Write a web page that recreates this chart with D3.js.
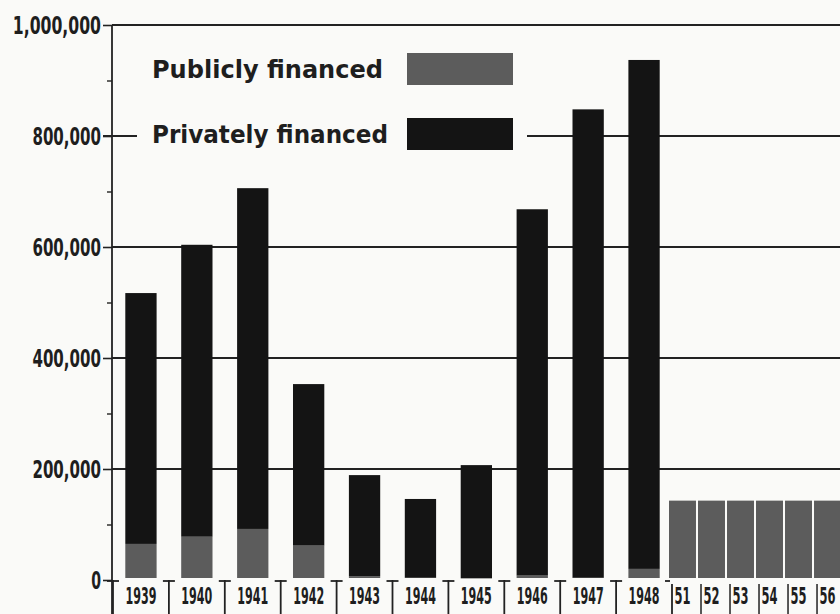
<!DOCTYPE html>
<html>
<head>
<meta charset="utf-8">
<script src="https://cdn.jsdelivr.net/npm/d3@7"></script>
<style>
    body { margin: 0; background: #fafaf8; }
    svg text {
        font-family: "Liberation Sans Narrow", "DejaVu Sans Condensed", "Liberation Sans", sans-serif;
        font-weight: bold;
        fill: #1e1e1e;
    }
</style>
</head>
<body>
<svg id="chart" width="840" height="614"></svg>
<script>
// dwelling units started
const years = ["1939", "1940", "1941", "1942", "1943", "1944", "1945", "1946", "1947", "1948"];
const publicStarts = [65000, 78000, 92000, 62000, 7000, 4000, 3000, 8000, 4000, 20000];
const privateStarts = [452000, 526000, 614000, 291000, 182000, 142000, 204000, 660000, 844000, 917000];

// projected public program, 1951-56
const projectedYears = ["51", "52", "53", "54", "55", "56"];
const projectedPublic = [143000, 143000, 143000, 143000, 143000, 143000];

const yTicks = [0, 200000, 400000, 600000, 800000, 1000000];
const yTickLabels = ["0", "200,000", "400,000", "600,000", "800,000", "1,000,000"];
const legendLabels = ["Publicly financed", "Privately financed"];

const colors = { public: "#5c5c5c", private: "#141414", ink: "#222" };

const svg = d3.select("#chart");
const width = +svg.attr("width"),
    height = +svg.attr("height");

const axisX = 112;

const y = d3.scaleLinear()
    .domain([0, 1000000])
    .range([580, 25]);

const x = d3.scaleBand()
    .domain(years)
    .range([113, 672])
    .paddingInner(0.44)
    .paddingOuter(0.22);

const xp = d3.scaleBand()
    .domain(projectedYears)
    .range([669, 841])
    .paddingInner(0.07)
    .paddingOuter(0);

// legend geometry (needed to break the 800,000 gridline)
const legend = { x: 152, boxX: 407, boxW: 106, boxH: 32, rows: [69, 134] };

// squeeze a centred label horizontally to a given width
function squeeze(sel, w) {
    sel.each(function() {
        const len = this.getComputedTextLength();
        if (len > 0) d3.select(this).attr("transform", "scale(" + (w / len) + ",1)");
    });
}

// gridlines
const grid = svg.append("g").attr("class", "grid");
yTicks.filter(d => d > 0).forEach(d => {
    let segs = [[axisX, width]];
    if (d === 800000) segs = [[axisX - 9, legend.x - 15], [legend.boxX + legend.boxW + 14, width]];
    segs.forEach(s => {
        grid.append("line")
            .attr("x1", s[0]).attr("x2", s[1])
            .attr("y1", y(d)).attr("y2", y(d))
            .attr("stroke", colors.ink)
            .attr("stroke-width", 1.8);
    });
});

// y axis, major + minor ticks
const yAxis = svg.append("g")
    .attr("transform", "translate(" + axisX + ",0)")
    .call(d3.axisLeft(y).tickValues(yTicks).tickSize(9).tickPadding(2)
        .tickFormat((d, i) => yTickLabels[i]));
yAxis.select(".domain").remove();
yAxis.selectAll("line").attr("stroke", colors.ink).attr("stroke-width", 1.6);
yAxis.selectAll("text")
    .attr("dy", "0.36em")
    .style("font-size", "24px")
    .attr("textLength", (d, i) => yTickLabels[i].length * 9.8)
    .attr("lengthAdjust", "spacingAndGlyphs");

const yMinor = svg.append("g")
    .attr("transform", "translate(" + axisX + ",0)")
    .call(d3.axisLeft(y).tickValues(d3.range(100000, 1000000, 200000)).tickSize(5).tickFormat(""));
yMinor.select(".domain").remove();
yMinor.selectAll("line").attr("stroke", colors.ink).attr("stroke-width", 1.4);

svg.append("line")
    .attr("x1", axisX).attr("x2", axisX)
    .attr("y1", y(1000000)).attr("y2", height)
    .attr("stroke", colors.ink)
    .attr("stroke-width", 1.8);

// stacked bars 1939-48
const bars = svg.append("g").attr("class", "bars");
bars.selectAll(".bar-public")
    .data(years)
    .enter().append("rect")
    .attr("class", "bar-public")
    .attr("x", d => x(d))
    .attr("width", x.bandwidth())
    .attr("y", (d, i) => y(publicStarts[i]))
    .attr("height", (d, i) => y(0) - y(publicStarts[i]) - 2)
    .attr("fill", colors.public);

bars.selectAll(".bar-private")
    .data(years)
    .enter().append("rect")
    .attr("class", "bar-private")
    .attr("x", d => x(d))
    .attr("width", x.bandwidth())
    .attr("y", (d, i) => y(publicStarts[i] + privateStarts[i]))
    .attr("height", (d, i) => y(publicStarts[i]) - y(publicStarts[i] + privateStarts[i]))
    .attr("fill", colors.private);

// projected program
bars.selectAll(".bar-projected")
    .data(projectedYears)
    .enter().append("rect")
    .attr("class", "bar-projected")
    .attr("x", d => xp(d))
    .attr("width", xp.bandwidth())
    .attr("y", (d, i) => y(projectedPublic[i]))
    .attr("height", (d, i) => y(0) - y(projectedPublic[i]) - 2)
    .attr("fill", colors.public);

// x axis labels
const xAxis = svg.append("g")
    .attr("transform", "translate(0," + y(0) + ")")
    .call(d3.axisBottom(x).tickSize(0));
xAxis.select(".domain").remove();
xAxis.selectAll("text")
    .attr("y", 24).attr("dy", 0)
    .style("font-size", "23px")
    .call(squeeze, 31);

const xAxisP = svg.append("g")
    .attr("transform", "translate(0," + y(0) + ")")
    .call(d3.axisBottom(xp).tickSize(0));
xAxisP.select(".domain").remove();
xAxisP.selectAll("text")
    .attr("y", 24).attr("dy", 0)
    .style("font-size", "23px")
    .call(squeeze, 16);

// T-shaped separators between the years
const seps = svg.append("g").attr("class", "seps");
const bounds = years.map(d => x(d) - x.step() * x.paddingInner() / 2);
bounds.push(x(years[years.length - 1]) + x.bandwidth() + x.step() * x.paddingInner() / 2);
bounds.forEach((b, i) => {
    const last = i === bounds.length - 1;
    seps.append("line")
        .attr("x1", b).attr("x2", b)
        .attr("y1", y(0) + (last ? 4 : 0)).attr("y2", height)
        .attr("stroke", colors.ink).attr("stroke-width", 1.8);
    seps.append("line")
        .attr("x1", b - (last ? 7 : 6)).attr("x2", last ? b - 2 : b + 6)
        .attr("y1", y(0) + 1).attr("y2", y(0) + 1)
        .attr("stroke", colors.ink).attr("stroke-width", 1.8);
});
projectedYears.slice(1).forEach(d => {
    const b = xp(d) + 3;
    seps.append("line")
        .attr("x1", b).attr("x2", b)
        .attr("y1", y(0) + 4).attr("y2", height)
        .attr("stroke", colors.ink).attr("stroke-width", 1.5);
});

// legend
const leg = svg.append("g").attr("class", "legend");
[colors.public, colors.private].forEach((c, i) => {
    const cy = legend.rows[i];
    leg.append("text")
        .attr("x", legend.x)
        .attr("y", cy)
        .attr("dy", "0.36em")
        .style("font-size", "24px")
        .attr("textLength", i === 0 ? 231 : 236)
        .attr("lengthAdjust", "spacingAndGlyphs")
        .text(legendLabels[i]);
    leg.append("rect")
        .attr("x", legend.boxX)
        .attr("y", cy - legend.boxH / 2)
        .attr("width", legend.boxW)
        .attr("height", legend.boxH)
        .attr("fill", c);
});
</script>
</body>
</html>
